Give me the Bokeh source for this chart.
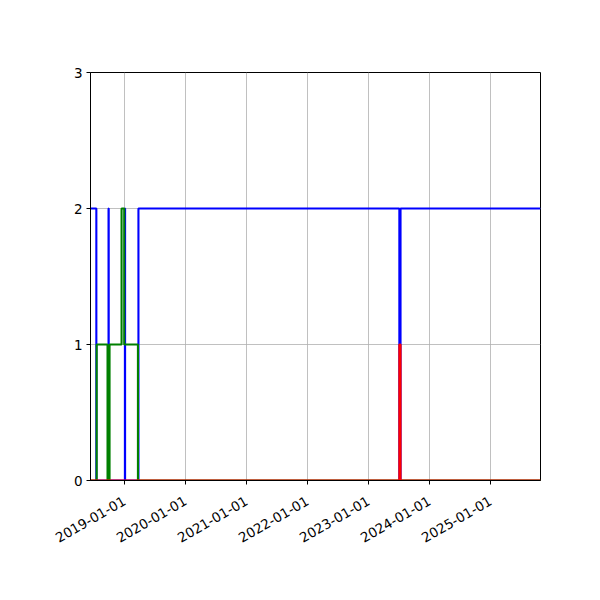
import math
from datetime import datetime
from bokeh.plotting import figure
from bokeh.models import Range1d, FixedTicker, DatetimeTickFormatter
from bokeh.embed import file_html
from bokeh.resources import INLINE

# ---- data ----
blue_dates = ["2018-06-12", "2018-07-17", "2018-09-28", "2018-09-29", "2019-01-04",
              "2019-01-05", "2019-03-26", "2023-07-05", "2023-07-12", "2025-10-27"]
blue_values = [2, 0, 2, 0, 2, 0, 2, 0, 2, 2]

green_dates = ["2018-06-12", "2018-07-19", "2018-09-22", "2018-10-04", "2018-12-15",
               "2018-12-31", "2019-03-23", "2025-10-27"]
green_values = [0, 1, 0, 1, 2, 1, 0, 0]

red_dates = ["2018-06-12", "2023-07-05", "2023-07-12", "2025-10-27"]
red_values = [0, 1, 0, 0]

x_ticks = ["2019-01-01", "2020-01-01", "2021-01-01", "2022-01-01",
           "2023-01-01", "2024-01-01", "2025-01-01"]
y_ticks = [0, 1, 2, 3]
x_start, x_end = "2018-06-12", "2025-10-27"
y_start, y_end = 0, 3


def to_dt(lst):
    return [datetime.strptime(s, "%Y-%m-%d") for s in lst]


def to_ms(s):
    return datetime.strptime(s, "%Y-%m-%d").timestamp() * 1000.0


p = figure(x_axis_type="datetime", output_backend="svg", toolbar_location=None,
           frame_width=450, frame_height=408,
           min_border_left=90, min_border_top=72, min_border_right=36, min_border_bottom=100,
           x_range=Range1d(to_dt([x_start])[0], to_dt([x_end])[0]),
           y_range=Range1d(y_start, y_end))

p.background_fill_color = "white"
p.border_fill_color = "white"
p.outline_line_color = "black"
p.outline_line_width = 1
p.outline_line_alpha = 1

for r in (p.xgrid, p.ygrid):
    r.grid_line_color = "#b0b0b0"
    r.grid_line_width = 0.8

p.xaxis.ticker = FixedTicker(ticks=[to_ms(t) for t in x_ticks])
p.xaxis.formatter = DatetimeTickFormatter(
    years="%Y-%m-%d", months="%Y-%m-%d", days="%Y-%m-%d", hours="%Y-%m-%d",
    minutes="%Y-%m-%d", seconds="%Y-%m-%d", milliseconds="%Y-%m-%d",
    minsec="%Y-%m-%d", hourmin="%Y-%m-%d")
p.xaxis.major_label_orientation = math.pi / 6
p.yaxis.ticker = FixedTicker(ticks=y_ticks)

for ax in (p.xaxis, p.yaxis):
    ax.axis_line_color = "black"
    ax.major_tick_line_color = "black"
    ax.major_tick_out = 4
    ax.major_tick_in = 0
    ax.minor_tick_line_color = None
    ax.major_label_text_font = "DejaVu Sans"
    ax.major_label_text_font_size = "13.5px"
    ax.major_label_text_color = "black"
    ax.major_label_standoff = 4
p.xaxis.major_label_standoff = 15

p.step(to_dt(blue_dates), blue_values, mode="after", line_color="#0000ff", line_width=2.1)
p.step(to_dt(green_dates), green_values, mode="after", line_color="#008000", line_width=2.1)
p.step(to_dt(red_dates), red_values, mode="after", line_color="#ff0000", line_width=2.1)

open("out.html", "w").write(file_html(p, INLINE))
